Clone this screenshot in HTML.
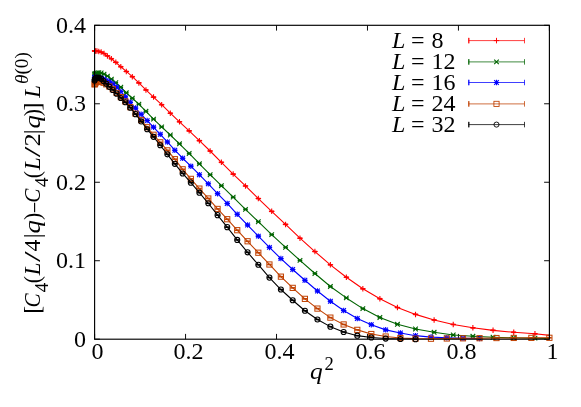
<!DOCTYPE html>
<html><head><meta charset="utf-8"><title>plot</title>
<style>html,body{margin:0;padding:0;background:#fff}body{width:581px;height:407px;overflow:hidden;font-family:"Liberation Serif",serif}</style>
</head><body>
<svg width="581" height="407" viewBox="0 0 581 407" style="display:block;will-change:transform">
<rect width="581" height="407" fill="#fff"/>
<defs><clipPath id="c"><rect x="94.6" y="25.3" width="454.79999999999995" height="313.9"/></clipPath></defs>
<path d="M94.60 339.2V333.9M94.60 25.3V30.6M185.56 339.2V333.9M185.56 25.3V30.6M276.52 339.2V333.9M276.52 25.3V30.6M367.48 339.2V333.9M367.48 25.3V30.6M458.44 339.2V333.9M458.44 25.3V30.6M549.40 339.2V333.9M549.40 25.3V30.6M94.6 339.20H99.89999999999999M549.4 339.20H544.1M94.6 260.73H99.89999999999999M549.4 260.73H544.1M94.6 182.25H99.89999999999999M549.4 182.25H544.1M94.6 103.78H99.89999999999999M549.4 103.78H544.1M94.6 25.30H99.89999999999999M549.4 25.30H544.1" stroke="#000" stroke-width="0.95" fill="none"/>
<g><path d="M94.60 50.88L94.86 50.89L95.65 50.93L96.96 51.05L98.79 51.42L101.15 52.12L104.03 53.54L107.44 55.90L111.37 58.73L115.82 62.34L120.80 66.73L126.30 71.44L132.32 76.70L138.87 82.90L145.95 89.96L153.54 97.10L161.66 104.72L170.31 113.19L179.48 121.82L189.17 130.85L199.39 140.66L210.13 151.02L221.39 162.32L233.18 174.09L245.49 185.94L258.33 198.57L271.69 211.36L285.57 224.39L299.98 238.20L314.91 251.54L330.37 264.81L346.35 277.20L362.85 288.82L379.88 298.71L397.43 307.57L415.51 314.40L434.11 319.97L453.23 324.45L472.88 327.82L493.05 330.33L513.74 332.29L534.96 333.79L556.71 336.06" stroke="#ff0000" stroke-width="1.1" fill="none" clip-path="url(#c)" stroke-linejoin="round"/>
<path d="M92.30 50.88H96.90" stroke="#ff0000" stroke-width="1.65" fill="none"/><path d="M94.60 48.13V53.63M91.85 50.88H97.35" stroke="#ff0000" stroke-width="1.1" fill="none"/>
<path d="M92.56 50.89H97.16" stroke="#ff0000" stroke-width="1.65" fill="none"/><path d="M94.86 48.14V53.64M92.11 50.89H97.61" stroke="#ff0000" stroke-width="1.1" fill="none"/>
<path d="M93.35 50.93H97.95" stroke="#ff0000" stroke-width="1.65" fill="none"/><path d="M95.65 48.18V53.68M92.90 50.93H98.40" stroke="#ff0000" stroke-width="1.1" fill="none"/>
<path d="M94.66 51.05H99.26" stroke="#ff0000" stroke-width="1.65" fill="none"/><path d="M96.96 48.30V53.80M94.21 51.05H99.71" stroke="#ff0000" stroke-width="1.1" fill="none"/>
<path d="M96.49 51.42H101.09" stroke="#ff0000" stroke-width="1.65" fill="none"/><path d="M98.79 48.67V54.17M96.04 51.42H101.54" stroke="#ff0000" stroke-width="1.1" fill="none"/>
<path d="M98.85 52.12H103.45" stroke="#ff0000" stroke-width="1.65" fill="none"/><path d="M101.15 49.37V54.87M98.40 52.12H103.90" stroke="#ff0000" stroke-width="1.1" fill="none"/>
<path d="M101.73 53.54H106.33" stroke="#ff0000" stroke-width="1.65" fill="none"/><path d="M104.03 50.79V56.29M101.28 53.54H106.78" stroke="#ff0000" stroke-width="1.1" fill="none"/>
<path d="M105.14 55.90H109.74" stroke="#ff0000" stroke-width="1.65" fill="none"/><path d="M107.44 53.15V58.65M104.69 55.90H110.19" stroke="#ff0000" stroke-width="1.1" fill="none"/>
<path d="M109.07 58.73H113.67" stroke="#ff0000" stroke-width="1.65" fill="none"/><path d="M111.37 55.98V61.48M108.62 58.73H114.12" stroke="#ff0000" stroke-width="1.1" fill="none"/>
<path d="M113.52 62.34H118.12" stroke="#ff0000" stroke-width="1.65" fill="none"/><path d="M115.82 59.59V65.09M113.07 62.34H118.57" stroke="#ff0000" stroke-width="1.1" fill="none"/>
<path d="M118.50 66.73H123.10" stroke="#ff0000" stroke-width="1.65" fill="none"/><path d="M120.80 63.98V69.48M118.05 66.73H123.55" stroke="#ff0000" stroke-width="1.1" fill="none"/>
<path d="M124.00 71.44H128.60" stroke="#ff0000" stroke-width="1.65" fill="none"/><path d="M126.30 68.69V74.19M123.55 71.44H129.05" stroke="#ff0000" stroke-width="1.1" fill="none"/>
<path d="M130.02 76.70H134.62" stroke="#ff0000" stroke-width="1.65" fill="none"/><path d="M132.32 73.95V79.45M129.57 76.70H135.07" stroke="#ff0000" stroke-width="1.1" fill="none"/>
<path d="M136.57 82.90H141.17" stroke="#ff0000" stroke-width="1.65" fill="none"/><path d="M138.87 80.15V85.65M136.12 82.90H141.62" stroke="#ff0000" stroke-width="1.1" fill="none"/>
<path d="M143.65 89.96H148.25" stroke="#ff0000" stroke-width="1.65" fill="none"/><path d="M145.95 87.21V92.71M143.20 89.96H148.70" stroke="#ff0000" stroke-width="1.1" fill="none"/>
<path d="M151.24 97.10H155.84" stroke="#ff0000" stroke-width="1.65" fill="none"/><path d="M153.54 94.35V99.85M150.79 97.10H156.29" stroke="#ff0000" stroke-width="1.1" fill="none"/>
<path d="M159.36 104.72H163.96" stroke="#ff0000" stroke-width="1.65" fill="none"/><path d="M161.66 101.97V107.47M158.91 104.72H164.41" stroke="#ff0000" stroke-width="1.1" fill="none"/>
<path d="M168.01 113.19H172.61" stroke="#ff0000" stroke-width="1.65" fill="none"/><path d="M170.31 110.44V115.94M167.56 113.19H173.06" stroke="#ff0000" stroke-width="1.1" fill="none"/>
<path d="M177.18 121.82H181.78" stroke="#ff0000" stroke-width="1.65" fill="none"/><path d="M179.48 119.07V124.57M176.73 121.82H182.23" stroke="#ff0000" stroke-width="1.1" fill="none"/>
<path d="M186.87 130.85H191.47" stroke="#ff0000" stroke-width="1.65" fill="none"/><path d="M189.17 128.10V133.60M186.42 130.85H191.92" stroke="#ff0000" stroke-width="1.1" fill="none"/>
<path d="M197.09 140.66H201.69" stroke="#ff0000" stroke-width="1.65" fill="none"/><path d="M199.39 137.91V143.41M196.64 140.66H202.14" stroke="#ff0000" stroke-width="1.1" fill="none"/>
<path d="M207.83 151.02H212.43" stroke="#ff0000" stroke-width="1.65" fill="none"/><path d="M210.13 148.27V153.77M207.38 151.02H212.88" stroke="#ff0000" stroke-width="1.1" fill="none"/>
<path d="M219.09 162.32H223.69" stroke="#ff0000" stroke-width="1.65" fill="none"/><path d="M221.39 159.57V165.07M218.64 162.32H224.14" stroke="#ff0000" stroke-width="1.1" fill="none"/>
<path d="M230.88 174.09H235.48" stroke="#ff0000" stroke-width="1.65" fill="none"/><path d="M233.18 171.34V176.84M230.43 174.09H235.93" stroke="#ff0000" stroke-width="1.1" fill="none"/>
<path d="M243.19 185.94H247.79" stroke="#ff0000" stroke-width="1.65" fill="none"/><path d="M245.49 183.19V188.69M242.74 185.94H248.24" stroke="#ff0000" stroke-width="1.1" fill="none"/>
<path d="M256.03 198.57H260.63" stroke="#ff0000" stroke-width="1.65" fill="none"/><path d="M258.33 195.82V201.32M255.58 198.57H261.08" stroke="#ff0000" stroke-width="1.1" fill="none"/>
<path d="M269.39 211.36H273.99" stroke="#ff0000" stroke-width="1.65" fill="none"/><path d="M271.69 208.61V214.11M268.94 211.36H274.44" stroke="#ff0000" stroke-width="1.1" fill="none"/>
<path d="M283.27 224.39H287.87" stroke="#ff0000" stroke-width="1.65" fill="none"/><path d="M285.57 221.64V227.14M282.82 224.39H288.32" stroke="#ff0000" stroke-width="1.1" fill="none"/>
<path d="M297.68 238.20H302.28" stroke="#ff0000" stroke-width="1.65" fill="none"/><path d="M299.98 235.45V240.95M297.23 238.20H302.73" stroke="#ff0000" stroke-width="1.1" fill="none"/>
<path d="M312.61 251.54H317.21" stroke="#ff0000" stroke-width="1.65" fill="none"/><path d="M314.91 248.79V254.29M312.16 251.54H317.66" stroke="#ff0000" stroke-width="1.1" fill="none"/>
<path d="M328.07 264.81H332.67" stroke="#ff0000" stroke-width="1.65" fill="none"/><path d="M330.37 262.06V267.56M327.62 264.81H333.12" stroke="#ff0000" stroke-width="1.1" fill="none"/>
<path d="M344.05 277.20H348.65" stroke="#ff0000" stroke-width="1.65" fill="none"/><path d="M346.35 274.45V279.95M343.60 277.20H349.10" stroke="#ff0000" stroke-width="1.1" fill="none"/>
<path d="M360.55 288.82H365.15" stroke="#ff0000" stroke-width="1.65" fill="none"/><path d="M362.85 286.07V291.57M360.10 288.82H365.60" stroke="#ff0000" stroke-width="1.1" fill="none"/>
<path d="M377.58 298.71H382.18" stroke="#ff0000" stroke-width="1.65" fill="none"/><path d="M379.88 295.96V301.46M377.13 298.71H382.63" stroke="#ff0000" stroke-width="1.1" fill="none"/>
<path d="M395.13 307.57H399.73" stroke="#ff0000" stroke-width="1.65" fill="none"/><path d="M397.43 304.82V310.32M394.68 307.57H400.18" stroke="#ff0000" stroke-width="1.1" fill="none"/>
<path d="M413.21 314.40H417.81" stroke="#ff0000" stroke-width="1.65" fill="none"/><path d="M415.51 311.65V317.15M412.76 314.40H418.26" stroke="#ff0000" stroke-width="1.1" fill="none"/>
<path d="M431.81 319.97H436.41" stroke="#ff0000" stroke-width="1.65" fill="none"/><path d="M434.11 317.22V322.72M431.36 319.97H436.86" stroke="#ff0000" stroke-width="1.1" fill="none"/>
<path d="M450.93 324.45H455.53" stroke="#ff0000" stroke-width="1.65" fill="none"/><path d="M453.23 321.70V327.20M450.48 324.45H455.98" stroke="#ff0000" stroke-width="1.1" fill="none"/>
<path d="M470.58 327.82H475.18" stroke="#ff0000" stroke-width="1.65" fill="none"/><path d="M472.88 325.07V330.57M470.13 327.82H475.63" stroke="#ff0000" stroke-width="1.1" fill="none"/>
<path d="M490.75 330.33H495.35" stroke="#ff0000" stroke-width="1.65" fill="none"/><path d="M493.05 327.58V333.08M490.30 330.33H495.80" stroke="#ff0000" stroke-width="1.1" fill="none"/>
<path d="M511.44 332.29H516.04" stroke="#ff0000" stroke-width="1.65" fill="none"/><path d="M513.74 329.54V335.04M510.99 332.29H516.49" stroke="#ff0000" stroke-width="1.1" fill="none"/>
<path d="M532.66 333.79H537.26" stroke="#ff0000" stroke-width="1.65" fill="none"/><path d="M534.96 331.04V336.54M532.21 333.79H537.71" stroke="#ff0000" stroke-width="1.1" fill="none"/>
</g>
<g><path d="M94.60 74.11L94.86 73.93L95.65 73.43L96.96 72.92L98.79 72.65L101.15 72.92L104.03 74.18L107.44 76.16L111.37 79.13L115.82 82.78L120.80 87.26L126.30 92.79L132.32 98.28L138.87 104.17L145.95 111.31L153.54 119.08L161.66 126.93L170.31 135.01L179.48 143.80L189.17 153.45L199.39 163.81L210.13 174.72L221.39 185.70L233.18 197.16L245.49 209.32L258.33 221.72L271.69 234.67L285.57 247.38L299.98 260.41L314.91 273.52L330.37 286.46L346.35 297.92L362.85 308.59L379.88 317.46L397.43 324.29L415.51 329.00L434.11 332.29L453.23 334.96L472.88 336.30L493.05 337.24L513.74 337.79L534.96 338.18L556.71 338.42" stroke="#006400" stroke-width="1.1" fill="none" clip-path="url(#c)" stroke-linejoin="round"/>
<path d="M92.30 74.11H96.90" stroke="#006400" stroke-width="1.65" fill="none"/><path d="M92.30 71.81L96.90 76.41M92.30 76.41L96.90 71.81" stroke="#006400" stroke-width="1.1" fill="none"/>
<path d="M92.56 73.93H97.16" stroke="#006400" stroke-width="1.65" fill="none"/><path d="M92.56 71.63L97.16 76.23M92.56 76.23L97.16 71.63" stroke="#006400" stroke-width="1.1" fill="none"/>
<path d="M93.35 73.43H97.95" stroke="#006400" stroke-width="1.65" fill="none"/><path d="M93.35 71.13L97.95 75.73M93.35 75.73L97.95 71.13" stroke="#006400" stroke-width="1.1" fill="none"/>
<path d="M94.66 72.92H99.26" stroke="#006400" stroke-width="1.65" fill="none"/><path d="M94.66 70.62L99.26 75.22M94.66 75.22L99.26 70.62" stroke="#006400" stroke-width="1.1" fill="none"/>
<path d="M96.49 72.65H101.09" stroke="#006400" stroke-width="1.65" fill="none"/><path d="M96.49 70.35L101.09 74.95M96.49 74.95L101.09 70.35" stroke="#006400" stroke-width="1.1" fill="none"/>
<path d="M98.85 72.92H103.45" stroke="#006400" stroke-width="1.65" fill="none"/><path d="M98.85 70.62L103.45 75.22M98.85 75.22L103.45 70.62" stroke="#006400" stroke-width="1.1" fill="none"/>
<path d="M101.73 74.18H106.33" stroke="#006400" stroke-width="1.65" fill="none"/><path d="M101.73 71.88L106.33 76.48M101.73 76.48L106.33 71.88" stroke="#006400" stroke-width="1.1" fill="none"/>
<path d="M105.14 76.16H109.74" stroke="#006400" stroke-width="1.65" fill="none"/><path d="M105.14 73.86L109.74 78.46M105.14 78.46L109.74 73.86" stroke="#006400" stroke-width="1.1" fill="none"/>
<path d="M109.07 79.13H113.67" stroke="#006400" stroke-width="1.65" fill="none"/><path d="M109.07 76.83L113.67 81.43M109.07 81.43L113.67 76.83" stroke="#006400" stroke-width="1.1" fill="none"/>
<path d="M113.52 82.78H118.12" stroke="#006400" stroke-width="1.65" fill="none"/><path d="M113.52 80.48L118.12 85.08M113.52 85.08L118.12 80.48" stroke="#006400" stroke-width="1.1" fill="none"/>
<path d="M118.50 87.26H123.10" stroke="#006400" stroke-width="1.65" fill="none"/><path d="M118.50 84.96L123.10 89.56M118.50 89.56L123.10 84.96" stroke="#006400" stroke-width="1.1" fill="none"/>
<path d="M124.00 92.79H128.60" stroke="#006400" stroke-width="1.65" fill="none"/><path d="M124.00 90.49L128.60 95.09M124.00 95.09L128.60 90.49" stroke="#006400" stroke-width="1.1" fill="none"/>
<path d="M130.02 98.28H134.62" stroke="#006400" stroke-width="1.65" fill="none"/><path d="M130.02 95.98L134.62 100.58M130.02 100.58L134.62 95.98" stroke="#006400" stroke-width="1.1" fill="none"/>
<path d="M136.57 104.17H141.17" stroke="#006400" stroke-width="1.65" fill="none"/><path d="M136.57 101.87L141.17 106.47M136.57 106.47L141.17 101.87" stroke="#006400" stroke-width="1.1" fill="none"/>
<path d="M143.65 111.31H148.25" stroke="#006400" stroke-width="1.65" fill="none"/><path d="M143.65 109.01L148.25 113.61M143.65 113.61L148.25 109.01" stroke="#006400" stroke-width="1.1" fill="none"/>
<path d="M151.24 119.08H155.84" stroke="#006400" stroke-width="1.65" fill="none"/><path d="M151.24 116.78L155.84 121.38M151.24 121.38L155.84 116.78" stroke="#006400" stroke-width="1.1" fill="none"/>
<path d="M159.36 126.93H163.96" stroke="#006400" stroke-width="1.65" fill="none"/><path d="M159.36 124.63L163.96 129.23M159.36 129.23L163.96 124.63" stroke="#006400" stroke-width="1.1" fill="none"/>
<path d="M168.01 135.01H172.61" stroke="#006400" stroke-width="1.65" fill="none"/><path d="M168.01 132.71L172.61 137.31M168.01 137.31L172.61 132.71" stroke="#006400" stroke-width="1.1" fill="none"/>
<path d="M177.18 143.80H181.78" stroke="#006400" stroke-width="1.65" fill="none"/><path d="M177.18 141.50L181.78 146.10M177.18 146.10L181.78 141.50" stroke="#006400" stroke-width="1.1" fill="none"/>
<path d="M186.87 153.45H191.47" stroke="#006400" stroke-width="1.65" fill="none"/><path d="M186.87 151.15L191.47 155.75M186.87 155.75L191.47 151.15" stroke="#006400" stroke-width="1.1" fill="none"/>
<path d="M197.09 163.81H201.69" stroke="#006400" stroke-width="1.65" fill="none"/><path d="M197.09 161.51L201.69 166.11M197.09 166.11L201.69 161.51" stroke="#006400" stroke-width="1.1" fill="none"/>
<path d="M207.83 174.72H212.43" stroke="#006400" stroke-width="1.65" fill="none"/><path d="M207.83 172.42L212.43 177.02M207.83 177.02L212.43 172.42" stroke="#006400" stroke-width="1.1" fill="none"/>
<path d="M219.09 185.70H223.69" stroke="#006400" stroke-width="1.65" fill="none"/><path d="M219.09 183.40L223.69 188.00M219.09 188.00L223.69 183.40" stroke="#006400" stroke-width="1.1" fill="none"/>
<path d="M230.88 197.16H235.48" stroke="#006400" stroke-width="1.65" fill="none"/><path d="M230.88 194.86L235.48 199.46M230.88 199.46L235.48 194.86" stroke="#006400" stroke-width="1.1" fill="none"/>
<path d="M243.19 209.32H247.79" stroke="#006400" stroke-width="1.65" fill="none"/><path d="M243.19 207.02L247.79 211.62M243.19 211.62L247.79 207.02" stroke="#006400" stroke-width="1.1" fill="none"/>
<path d="M256.03 221.72H260.63" stroke="#006400" stroke-width="1.65" fill="none"/><path d="M256.03 219.42L260.63 224.02M256.03 224.02L260.63 219.42" stroke="#006400" stroke-width="1.1" fill="none"/>
<path d="M269.39 234.67H273.99" stroke="#006400" stroke-width="1.65" fill="none"/><path d="M269.39 232.37L273.99 236.97M269.39 236.97L273.99 232.37" stroke="#006400" stroke-width="1.1" fill="none"/>
<path d="M283.27 247.38H287.87" stroke="#006400" stroke-width="1.65" fill="none"/><path d="M283.27 245.08L287.87 249.68M283.27 249.68L287.87 245.08" stroke="#006400" stroke-width="1.1" fill="none"/>
<path d="M297.68 260.41H302.28" stroke="#006400" stroke-width="1.65" fill="none"/><path d="M297.68 258.11L302.28 262.71M297.68 262.71L302.28 258.11" stroke="#006400" stroke-width="1.1" fill="none"/>
<path d="M312.61 273.52H317.21" stroke="#006400" stroke-width="1.65" fill="none"/><path d="M312.61 271.22L317.21 275.82M312.61 275.82L317.21 271.22" stroke="#006400" stroke-width="1.1" fill="none"/>
<path d="M328.07 286.46H332.67" stroke="#006400" stroke-width="1.65" fill="none"/><path d="M328.07 284.16L332.67 288.76M328.07 288.76L332.67 284.16" stroke="#006400" stroke-width="1.1" fill="none"/>
<path d="M344.05 297.92H348.65" stroke="#006400" stroke-width="1.65" fill="none"/><path d="M344.05 295.62L348.65 300.22M344.05 300.22L348.65 295.62" stroke="#006400" stroke-width="1.1" fill="none"/>
<path d="M360.55 308.59H365.15" stroke="#006400" stroke-width="1.65" fill="none"/><path d="M360.55 306.29L365.15 310.89M360.55 310.89L365.15 306.29" stroke="#006400" stroke-width="1.1" fill="none"/>
<path d="M377.58 317.46H382.18" stroke="#006400" stroke-width="1.65" fill="none"/><path d="M377.58 315.16L382.18 319.76M377.58 319.76L382.18 315.16" stroke="#006400" stroke-width="1.1" fill="none"/>
<path d="M395.13 324.29H399.73" stroke="#006400" stroke-width="1.65" fill="none"/><path d="M395.13 321.99L399.73 326.59M395.13 326.59L399.73 321.99" stroke="#006400" stroke-width="1.1" fill="none"/>
<path d="M413.21 329.00H417.81" stroke="#006400" stroke-width="1.65" fill="none"/><path d="M413.21 326.70L417.81 331.30M413.21 331.30L417.81 326.70" stroke="#006400" stroke-width="1.1" fill="none"/>
<path d="M431.81 332.29H436.41" stroke="#006400" stroke-width="1.65" fill="none"/><path d="M431.81 329.99L436.41 334.59M431.81 334.59L436.41 329.99" stroke="#006400" stroke-width="1.1" fill="none"/>
<path d="M450.93 334.96H455.53" stroke="#006400" stroke-width="1.65" fill="none"/><path d="M450.93 332.66L455.53 337.26M450.93 337.26L455.53 332.66" stroke="#006400" stroke-width="1.1" fill="none"/>
<path d="M470.58 336.30H475.18" stroke="#006400" stroke-width="1.65" fill="none"/><path d="M470.58 334.00L475.18 338.60M470.58 338.60L475.18 334.00" stroke="#006400" stroke-width="1.1" fill="none"/>
<path d="M490.75 337.24H495.35" stroke="#006400" stroke-width="1.65" fill="none"/><path d="M490.75 334.94L495.35 339.54M490.75 339.54L495.35 334.94" stroke="#006400" stroke-width="1.1" fill="none"/>
<path d="M511.44 337.79H516.04" stroke="#006400" stroke-width="1.65" fill="none"/><path d="M511.44 335.49L516.04 340.09M511.44 340.09L516.04 335.49" stroke="#006400" stroke-width="1.1" fill="none"/>
<path d="M532.66 338.18H537.26" stroke="#006400" stroke-width="1.65" fill="none"/><path d="M532.66 335.88L537.26 340.48M532.66 340.48L537.26 335.88" stroke="#006400" stroke-width="1.1" fill="none"/>
</g>
<g><path d="M94.60 77.49L94.78 77.49L95.33 77.51L96.24 77.56L97.51 77.66L99.15 77.87L101.15 78.27L103.51 79.06L106.24 80.39L109.34 81.83L112.79 83.84L116.61 87.00L120.80 91.49L125.34 96.87L130.26 102.36L135.53 108.09L141.17 114.29L147.17 120.57L153.54 127.16L160.27 134.30L167.37 141.99L174.83 150.23L182.65 158.24L190.84 166.16L199.39 174.72L208.30 183.82L217.58 193.63L227.22 203.44L237.23 214.27L247.59 225.02L258.33 236.16L269.43 247.38L280.89 258.61L292.71 269.51L304.90 280.27L317.45 291.02L330.37 301.30L343.65 310.48L357.29 318.48L371.30 324.68L385.67 329.86L400.41 333.00L415.51 335.67L430.97 337.08L446.80 337.71L462.99 338.26L479.54 338.57" stroke="#0000ff" stroke-width="1.1" fill="none" clip-path="url(#c)" stroke-linejoin="round"/>
<path d="M92.30 77.49H96.90" stroke="#0000ff" stroke-width="1.65" fill="none"/><path d="M94.60 74.74V80.24M91.85 77.49H97.35" stroke="#0000ff" stroke-width="1.1" fill="none"/><path d="M92.30 75.19L96.90 79.79M92.30 79.79L96.90 75.19" stroke="#0000ff" stroke-width="1.1" fill="none"/>
<path d="M92.48 77.49H97.08" stroke="#0000ff" stroke-width="1.65" fill="none"/><path d="M94.78 74.74V80.24M92.03 77.49H97.53" stroke="#0000ff" stroke-width="1.1" fill="none"/><path d="M92.48 75.19L97.08 79.79M92.48 79.79L97.08 75.19" stroke="#0000ff" stroke-width="1.1" fill="none"/>
<path d="M93.03 77.51H97.63" stroke="#0000ff" stroke-width="1.65" fill="none"/><path d="M95.33 74.76V80.26M92.58 77.51H98.08" stroke="#0000ff" stroke-width="1.1" fill="none"/><path d="M93.03 75.21L97.63 79.81M93.03 79.81L97.63 75.21" stroke="#0000ff" stroke-width="1.1" fill="none"/>
<path d="M93.94 77.56H98.54" stroke="#0000ff" stroke-width="1.65" fill="none"/><path d="M96.24 74.81V80.31M93.49 77.56H98.99" stroke="#0000ff" stroke-width="1.1" fill="none"/><path d="M93.94 75.26L98.54 79.86M93.94 79.86L98.54 75.26" stroke="#0000ff" stroke-width="1.1" fill="none"/>
<path d="M95.21 77.66H99.81" stroke="#0000ff" stroke-width="1.65" fill="none"/><path d="M97.51 74.91V80.41M94.76 77.66H100.26" stroke="#0000ff" stroke-width="1.1" fill="none"/><path d="M95.21 75.36L99.81 79.96M95.21 79.96L99.81 75.36" stroke="#0000ff" stroke-width="1.1" fill="none"/>
<path d="M96.85 77.87H101.45" stroke="#0000ff" stroke-width="1.65" fill="none"/><path d="M99.15 75.12V80.62M96.40 77.87H101.90" stroke="#0000ff" stroke-width="1.1" fill="none"/><path d="M96.85 75.57L101.45 80.17M96.85 80.17L101.45 75.57" stroke="#0000ff" stroke-width="1.1" fill="none"/>
<path d="M98.85 78.27H103.45" stroke="#0000ff" stroke-width="1.65" fill="none"/><path d="M101.15 75.52V81.02M98.40 78.27H103.90" stroke="#0000ff" stroke-width="1.1" fill="none"/><path d="M98.85 75.97L103.45 80.57M98.85 80.57L103.45 75.97" stroke="#0000ff" stroke-width="1.1" fill="none"/>
<path d="M101.21 79.06H105.81" stroke="#0000ff" stroke-width="1.65" fill="none"/><path d="M103.51 76.31V81.81M100.76 79.06H106.26" stroke="#0000ff" stroke-width="1.1" fill="none"/><path d="M101.21 76.76L105.81 81.36M101.21 81.36L105.81 76.76" stroke="#0000ff" stroke-width="1.1" fill="none"/>
<path d="M103.94 80.39H108.54" stroke="#0000ff" stroke-width="1.65" fill="none"/><path d="M106.24 77.64V83.14M103.49 80.39H108.99" stroke="#0000ff" stroke-width="1.1" fill="none"/><path d="M103.94 78.09L108.54 82.69M103.94 82.69L108.54 78.09" stroke="#0000ff" stroke-width="1.1" fill="none"/>
<path d="M107.04 81.83H111.64" stroke="#0000ff" stroke-width="1.65" fill="none"/><path d="M109.34 79.08V84.58M106.59 81.83H112.09" stroke="#0000ff" stroke-width="1.1" fill="none"/><path d="M107.04 79.53L111.64 84.13M107.04 84.13L111.64 79.53" stroke="#0000ff" stroke-width="1.1" fill="none"/>
<path d="M110.49 83.84H115.09" stroke="#0000ff" stroke-width="1.65" fill="none"/><path d="M112.79 81.09V86.59M110.04 83.84H115.54" stroke="#0000ff" stroke-width="1.1" fill="none"/><path d="M110.49 81.54L115.09 86.14M110.49 86.14L115.09 81.54" stroke="#0000ff" stroke-width="1.1" fill="none"/>
<path d="M114.31 87.00H118.91" stroke="#0000ff" stroke-width="1.65" fill="none"/><path d="M116.61 84.25V89.75M113.86 87.00H119.36" stroke="#0000ff" stroke-width="1.1" fill="none"/><path d="M114.31 84.70L118.91 89.30M114.31 89.30L118.91 84.70" stroke="#0000ff" stroke-width="1.1" fill="none"/>
<path d="M118.50 91.49H123.10" stroke="#0000ff" stroke-width="1.65" fill="none"/><path d="M120.80 88.74V94.24M118.05 91.49H123.55" stroke="#0000ff" stroke-width="1.1" fill="none"/><path d="M118.50 89.19L123.10 93.79M118.50 93.79L123.10 89.19" stroke="#0000ff" stroke-width="1.1" fill="none"/>
<path d="M123.04 96.87H127.64" stroke="#0000ff" stroke-width="1.65" fill="none"/><path d="M125.34 94.12V99.62M122.59 96.87H128.09" stroke="#0000ff" stroke-width="1.1" fill="none"/><path d="M123.04 94.57L127.64 99.17M123.04 99.17L127.64 94.57" stroke="#0000ff" stroke-width="1.1" fill="none"/>
<path d="M127.96 102.36H132.56" stroke="#0000ff" stroke-width="1.65" fill="none"/><path d="M130.26 99.61V105.11M127.51 102.36H133.01" stroke="#0000ff" stroke-width="1.1" fill="none"/><path d="M127.96 100.06L132.56 104.66M127.96 104.66L132.56 100.06" stroke="#0000ff" stroke-width="1.1" fill="none"/>
<path d="M133.23 108.09H137.83" stroke="#0000ff" stroke-width="1.65" fill="none"/><path d="M135.53 105.34V110.84M132.78 108.09H138.28" stroke="#0000ff" stroke-width="1.1" fill="none"/><path d="M133.23 105.79L137.83 110.39M133.23 110.39L137.83 105.79" stroke="#0000ff" stroke-width="1.1" fill="none"/>
<path d="M138.87 114.29H143.47" stroke="#0000ff" stroke-width="1.65" fill="none"/><path d="M141.17 111.54V117.04M138.42 114.29H143.92" stroke="#0000ff" stroke-width="1.1" fill="none"/><path d="M138.87 111.99L143.47 116.59M138.87 116.59L143.47 111.99" stroke="#0000ff" stroke-width="1.1" fill="none"/>
<path d="M144.87 120.57H149.47" stroke="#0000ff" stroke-width="1.65" fill="none"/><path d="M147.17 117.82V123.32M144.42 120.57H149.92" stroke="#0000ff" stroke-width="1.1" fill="none"/><path d="M144.87 118.27L149.47 122.87M144.87 122.87L149.47 118.27" stroke="#0000ff" stroke-width="1.1" fill="none"/>
<path d="M151.24 127.16H155.84" stroke="#0000ff" stroke-width="1.65" fill="none"/><path d="M153.54 124.41V129.91M150.79 127.16H156.29" stroke="#0000ff" stroke-width="1.1" fill="none"/><path d="M151.24 124.86L155.84 129.46M151.24 129.46L155.84 124.86" stroke="#0000ff" stroke-width="1.1" fill="none"/>
<path d="M157.97 134.30H162.57" stroke="#0000ff" stroke-width="1.65" fill="none"/><path d="M160.27 131.55V137.05M157.52 134.30H163.02" stroke="#0000ff" stroke-width="1.1" fill="none"/><path d="M157.97 132.00L162.57 136.60M157.97 136.60L162.57 132.00" stroke="#0000ff" stroke-width="1.1" fill="none"/>
<path d="M165.07 141.99H169.67" stroke="#0000ff" stroke-width="1.65" fill="none"/><path d="M167.37 139.24V144.74M164.62 141.99H170.12" stroke="#0000ff" stroke-width="1.1" fill="none"/><path d="M165.07 139.69L169.67 144.29M165.07 144.29L169.67 139.69" stroke="#0000ff" stroke-width="1.1" fill="none"/>
<path d="M172.53 150.23H177.13" stroke="#0000ff" stroke-width="1.65" fill="none"/><path d="M174.83 147.48V152.98M172.08 150.23H177.58" stroke="#0000ff" stroke-width="1.1" fill="none"/><path d="M172.53 147.93L177.13 152.53M172.53 152.53L177.13 147.93" stroke="#0000ff" stroke-width="1.1" fill="none"/>
<path d="M180.35 158.24H184.95" stroke="#0000ff" stroke-width="1.65" fill="none"/><path d="M182.65 155.49V160.99M179.90 158.24H185.40" stroke="#0000ff" stroke-width="1.1" fill="none"/><path d="M180.35 155.94L184.95 160.54M180.35 160.54L184.95 155.94" stroke="#0000ff" stroke-width="1.1" fill="none"/>
<path d="M188.54 166.16H193.14" stroke="#0000ff" stroke-width="1.65" fill="none"/><path d="M190.84 163.41V168.91M188.09 166.16H193.59" stroke="#0000ff" stroke-width="1.1" fill="none"/><path d="M188.54 163.86L193.14 168.46M188.54 168.46L193.14 163.86" stroke="#0000ff" stroke-width="1.1" fill="none"/>
<path d="M197.09 174.72H201.69" stroke="#0000ff" stroke-width="1.65" fill="none"/><path d="M199.39 171.97V177.47M196.64 174.72H202.14" stroke="#0000ff" stroke-width="1.1" fill="none"/><path d="M197.09 172.42L201.69 177.02M197.09 177.02L201.69 172.42" stroke="#0000ff" stroke-width="1.1" fill="none"/>
<path d="M206.00 183.82H210.60" stroke="#0000ff" stroke-width="1.65" fill="none"/><path d="M208.30 181.07V186.57M205.55 183.82H211.05" stroke="#0000ff" stroke-width="1.1" fill="none"/><path d="M206.00 181.52L210.60 186.12M206.00 186.12L210.60 181.52" stroke="#0000ff" stroke-width="1.1" fill="none"/>
<path d="M215.28 193.63H219.88" stroke="#0000ff" stroke-width="1.65" fill="none"/><path d="M217.58 190.88V196.38M214.83 193.63H220.33" stroke="#0000ff" stroke-width="1.1" fill="none"/><path d="M215.28 191.33L219.88 195.93M215.28 195.93L219.88 191.33" stroke="#0000ff" stroke-width="1.1" fill="none"/>
<path d="M224.92 203.44H229.52" stroke="#0000ff" stroke-width="1.65" fill="none"/><path d="M227.22 200.69V206.19M224.47 203.44H229.97" stroke="#0000ff" stroke-width="1.1" fill="none"/><path d="M224.92 201.14L229.52 205.74M224.92 205.74L229.52 201.14" stroke="#0000ff" stroke-width="1.1" fill="none"/>
<path d="M234.93 214.27H239.53" stroke="#0000ff" stroke-width="1.65" fill="none"/><path d="M237.23 211.52V217.02M234.48 214.27H239.98" stroke="#0000ff" stroke-width="1.1" fill="none"/><path d="M234.93 211.97L239.53 216.57M234.93 216.57L239.53 211.97" stroke="#0000ff" stroke-width="1.1" fill="none"/>
<path d="M245.29 225.02H249.89" stroke="#0000ff" stroke-width="1.65" fill="none"/><path d="M247.59 222.27V227.77M244.84 225.02H250.34" stroke="#0000ff" stroke-width="1.1" fill="none"/><path d="M245.29 222.72L249.89 227.32M245.29 227.32L249.89 222.72" stroke="#0000ff" stroke-width="1.1" fill="none"/>
<path d="M256.03 236.16H260.63" stroke="#0000ff" stroke-width="1.65" fill="none"/><path d="M258.33 233.41V238.91M255.58 236.16H261.08" stroke="#0000ff" stroke-width="1.1" fill="none"/><path d="M256.03 233.86L260.63 238.46M256.03 238.46L260.63 233.86" stroke="#0000ff" stroke-width="1.1" fill="none"/>
<path d="M267.13 247.38H271.73" stroke="#0000ff" stroke-width="1.65" fill="none"/><path d="M269.43 244.63V250.13M266.68 247.38H272.18" stroke="#0000ff" stroke-width="1.1" fill="none"/><path d="M267.13 245.08L271.73 249.68M267.13 249.68L271.73 245.08" stroke="#0000ff" stroke-width="1.1" fill="none"/>
<path d="M278.59 258.61H283.19" stroke="#0000ff" stroke-width="1.65" fill="none"/><path d="M280.89 255.86V261.36M278.14 258.61H283.64" stroke="#0000ff" stroke-width="1.1" fill="none"/><path d="M278.59 256.31L283.19 260.91M278.59 260.91L283.19 256.31" stroke="#0000ff" stroke-width="1.1" fill="none"/>
<path d="M290.41 269.51H295.01" stroke="#0000ff" stroke-width="1.65" fill="none"/><path d="M292.71 266.76V272.26M289.96 269.51H295.46" stroke="#0000ff" stroke-width="1.1" fill="none"/><path d="M290.41 267.21L295.01 271.81M290.41 271.81L295.01 267.21" stroke="#0000ff" stroke-width="1.1" fill="none"/>
<path d="M302.60 280.27H307.20" stroke="#0000ff" stroke-width="1.65" fill="none"/><path d="M304.90 277.52V283.02M302.15 280.27H307.65" stroke="#0000ff" stroke-width="1.1" fill="none"/><path d="M302.60 277.97L307.20 282.57M302.60 282.57L307.20 277.97" stroke="#0000ff" stroke-width="1.1" fill="none"/>
<path d="M315.15 291.02H319.75" stroke="#0000ff" stroke-width="1.65" fill="none"/><path d="M317.45 288.27V293.77M314.70 291.02H320.20" stroke="#0000ff" stroke-width="1.1" fill="none"/><path d="M315.15 288.72L319.75 293.32M315.15 293.32L319.75 288.72" stroke="#0000ff" stroke-width="1.1" fill="none"/>
<path d="M328.07 301.30H332.67" stroke="#0000ff" stroke-width="1.65" fill="none"/><path d="M330.37 298.55V304.05M327.62 301.30H333.12" stroke="#0000ff" stroke-width="1.1" fill="none"/><path d="M328.07 299.00L332.67 303.60M328.07 303.60L332.67 299.00" stroke="#0000ff" stroke-width="1.1" fill="none"/>
<path d="M341.35 310.48H345.95" stroke="#0000ff" stroke-width="1.65" fill="none"/><path d="M343.65 307.73V313.23M340.90 310.48H346.40" stroke="#0000ff" stroke-width="1.1" fill="none"/><path d="M341.35 308.18L345.95 312.78M341.35 312.78L345.95 308.18" stroke="#0000ff" stroke-width="1.1" fill="none"/>
<path d="M354.99 318.48H359.59" stroke="#0000ff" stroke-width="1.65" fill="none"/><path d="M357.29 315.73V321.23M354.54 318.48H360.04" stroke="#0000ff" stroke-width="1.1" fill="none"/><path d="M354.99 316.18L359.59 320.78M354.99 320.78L359.59 316.18" stroke="#0000ff" stroke-width="1.1" fill="none"/>
<path d="M369.00 324.68H373.60" stroke="#0000ff" stroke-width="1.65" fill="none"/><path d="M371.30 321.93V327.43M368.55 324.68H374.05" stroke="#0000ff" stroke-width="1.1" fill="none"/><path d="M369.00 322.38L373.60 326.98M369.00 326.98L373.60 322.38" stroke="#0000ff" stroke-width="1.1" fill="none"/>
<path d="M383.37 329.86H387.97" stroke="#0000ff" stroke-width="1.65" fill="none"/><path d="M385.67 327.11V332.61M382.92 329.86H388.42" stroke="#0000ff" stroke-width="1.1" fill="none"/><path d="M383.37 327.56L387.97 332.16M383.37 332.16L387.97 327.56" stroke="#0000ff" stroke-width="1.1" fill="none"/>
<path d="M398.11 333.00H402.71" stroke="#0000ff" stroke-width="1.65" fill="none"/><path d="M400.41 330.25V335.75M397.66 333.00H403.16" stroke="#0000ff" stroke-width="1.1" fill="none"/><path d="M398.11 330.70L402.71 335.30M398.11 335.30L402.71 330.70" stroke="#0000ff" stroke-width="1.1" fill="none"/>
<path d="M413.21 335.67H417.81" stroke="#0000ff" stroke-width="1.65" fill="none"/><path d="M415.51 332.92V338.42M412.76 335.67H418.26" stroke="#0000ff" stroke-width="1.1" fill="none"/><path d="M413.21 333.37L417.81 337.97M413.21 337.97L417.81 333.37" stroke="#0000ff" stroke-width="1.1" fill="none"/>
<path d="M428.67 337.08H433.27" stroke="#0000ff" stroke-width="1.65" fill="none"/><path d="M430.97 334.33V339.83M428.22 337.08H433.72" stroke="#0000ff" stroke-width="1.1" fill="none"/><path d="M428.67 334.78L433.27 339.38M428.67 339.38L433.27 334.78" stroke="#0000ff" stroke-width="1.1" fill="none"/>
<path d="M444.50 337.71H449.10" stroke="#0000ff" stroke-width="1.65" fill="none"/><path d="M446.80 334.96V340.46M444.05 337.71H449.55" stroke="#0000ff" stroke-width="1.1" fill="none"/><path d="M444.50 335.41L449.10 340.01M444.50 340.01L449.10 335.41" stroke="#0000ff" stroke-width="1.1" fill="none"/>
<path d="M460.69 338.26H465.29" stroke="#0000ff" stroke-width="1.65" fill="none"/><path d="M462.99 335.51V341.01M460.24 338.26H465.74" stroke="#0000ff" stroke-width="1.1" fill="none"/><path d="M460.69 335.96L465.29 340.56M460.69 340.56L465.29 335.96" stroke="#0000ff" stroke-width="1.1" fill="none"/>
<path d="M477.24 338.57H481.84" stroke="#0000ff" stroke-width="1.65" fill="none"/><path d="M479.54 335.82V341.32M476.79 338.57H482.29" stroke="#0000ff" stroke-width="1.1" fill="none"/><path d="M477.24 336.27L481.84 340.87M477.24 340.87L481.84 336.27" stroke="#0000ff" stroke-width="1.1" fill="none"/>
</g>
<g><path d="M94.60 84.39L94.78 84.06L95.33 83.21L96.24 82.22L97.51 81.57L99.15 81.25L101.15 81.65L103.51 82.74L106.24 84.31L109.34 86.48L112.79 89.26L116.61 92.88L120.80 97.10L125.34 101.42L130.26 107.17L135.53 113.66L141.17 120.02L147.17 127.24L153.54 134.77L160.27 142.31L167.37 150.36L174.83 159.18L182.65 169.30L190.84 178.88L199.39 188.61L208.30 198.49L217.58 208.93L227.22 219.21L237.23 230.20L247.59 241.26L258.33 252.72L269.43 264.49L280.89 276.66L292.71 287.88L304.90 298.86L317.45 308.59L330.37 317.62L343.65 324.45L357.29 329.86L371.30 334.02L385.67 336.53L400.41 338.02L415.51 338.65L430.97 338.73L446.80 338.49L462.99 338.32L479.54 338.18L496.46 338.05L513.74 337.94L531.39 337.86L549.40 337.79" stroke="#c04000" stroke-width="1.1" fill="none" clip-path="url(#c)" stroke-linejoin="round"/>
<path d="M92.30 84.39H96.90" stroke="#c04000" stroke-width="1.65" fill="none"/><rect x="92.00" y="81.79" width="5.2" height="5.2" stroke="#c04000" stroke-width="0.99" fill="none"/>
<path d="M92.48 84.06H97.08" stroke="#c04000" stroke-width="1.65" fill="none"/><rect x="92.18" y="81.46" width="5.2" height="5.2" stroke="#c04000" stroke-width="0.99" fill="none"/>
<path d="M93.03 83.21H97.63" stroke="#c04000" stroke-width="1.65" fill="none"/><rect x="92.73" y="80.61" width="5.2" height="5.2" stroke="#c04000" stroke-width="0.99" fill="none"/>
<path d="M93.94 82.22H98.54" stroke="#c04000" stroke-width="1.65" fill="none"/><rect x="93.64" y="79.62" width="5.2" height="5.2" stroke="#c04000" stroke-width="0.99" fill="none"/>
<path d="M95.21 81.57H99.81" stroke="#c04000" stroke-width="1.65" fill="none"/><rect x="94.91" y="78.97" width="5.2" height="5.2" stroke="#c04000" stroke-width="0.99" fill="none"/>
<path d="M96.85 81.25H101.45" stroke="#c04000" stroke-width="1.65" fill="none"/><rect x="96.55" y="78.65" width="5.2" height="5.2" stroke="#c04000" stroke-width="0.99" fill="none"/>
<path d="M98.85 81.65H103.45" stroke="#c04000" stroke-width="1.65" fill="none"/><rect x="98.55" y="79.05" width="5.2" height="5.2" stroke="#c04000" stroke-width="0.99" fill="none"/>
<path d="M101.21 82.74H105.81" stroke="#c04000" stroke-width="1.65" fill="none"/><rect x="100.91" y="80.14" width="5.2" height="5.2" stroke="#c04000" stroke-width="0.99" fill="none"/>
<path d="M103.94 84.31H108.54" stroke="#c04000" stroke-width="1.65" fill="none"/><rect x="103.64" y="81.71" width="5.2" height="5.2" stroke="#c04000" stroke-width="0.99" fill="none"/>
<path d="M107.04 86.48H111.64" stroke="#c04000" stroke-width="1.65" fill="none"/><rect x="106.74" y="83.88" width="5.2" height="5.2" stroke="#c04000" stroke-width="0.99" fill="none"/>
<path d="M110.49 89.26H115.09" stroke="#c04000" stroke-width="1.65" fill="none"/><rect x="110.19" y="86.66" width="5.2" height="5.2" stroke="#c04000" stroke-width="0.99" fill="none"/>
<path d="M114.31 92.88H118.91" stroke="#c04000" stroke-width="1.65" fill="none"/><rect x="114.01" y="90.28" width="5.2" height="5.2" stroke="#c04000" stroke-width="0.99" fill="none"/>
<path d="M118.50 97.10H123.10" stroke="#c04000" stroke-width="1.65" fill="none"/><rect x="118.20" y="94.50" width="5.2" height="5.2" stroke="#c04000" stroke-width="0.99" fill="none"/>
<path d="M123.04 101.42H127.64" stroke="#c04000" stroke-width="1.65" fill="none"/><rect x="122.74" y="98.82" width="5.2" height="5.2" stroke="#c04000" stroke-width="0.99" fill="none"/>
<path d="M127.96 107.17H132.56" stroke="#c04000" stroke-width="1.65" fill="none"/><rect x="127.66" y="104.57" width="5.2" height="5.2" stroke="#c04000" stroke-width="0.99" fill="none"/>
<path d="M133.23 113.66H137.83" stroke="#c04000" stroke-width="1.65" fill="none"/><rect x="132.93" y="111.06" width="5.2" height="5.2" stroke="#c04000" stroke-width="0.99" fill="none"/>
<path d="M138.87 120.02H143.47" stroke="#c04000" stroke-width="1.65" fill="none"/><rect x="138.57" y="117.42" width="5.2" height="5.2" stroke="#c04000" stroke-width="0.99" fill="none"/>
<path d="M144.87 127.24H149.47" stroke="#c04000" stroke-width="1.65" fill="none"/><rect x="144.57" y="124.64" width="5.2" height="5.2" stroke="#c04000" stroke-width="0.99" fill="none"/>
<path d="M151.24 134.77H155.84" stroke="#c04000" stroke-width="1.65" fill="none"/><rect x="150.94" y="132.17" width="5.2" height="5.2" stroke="#c04000" stroke-width="0.99" fill="none"/>
<path d="M157.97 142.31H162.57" stroke="#c04000" stroke-width="1.65" fill="none"/><rect x="157.67" y="139.71" width="5.2" height="5.2" stroke="#c04000" stroke-width="0.99" fill="none"/>
<path d="M165.07 150.36H169.67" stroke="#c04000" stroke-width="1.65" fill="none"/><rect x="164.77" y="147.76" width="5.2" height="5.2" stroke="#c04000" stroke-width="0.99" fill="none"/>
<path d="M172.53 159.18H177.13" stroke="#c04000" stroke-width="1.65" fill="none"/><rect x="172.23" y="156.58" width="5.2" height="5.2" stroke="#c04000" stroke-width="0.99" fill="none"/>
<path d="M180.35 169.30H184.95" stroke="#c04000" stroke-width="1.65" fill="none"/><rect x="180.05" y="166.70" width="5.2" height="5.2" stroke="#c04000" stroke-width="0.99" fill="none"/>
<path d="M188.54 178.88H193.14" stroke="#c04000" stroke-width="1.65" fill="none"/><rect x="188.24" y="176.28" width="5.2" height="5.2" stroke="#c04000" stroke-width="0.99" fill="none"/>
<path d="M197.09 188.61H201.69" stroke="#c04000" stroke-width="1.65" fill="none"/><rect x="196.79" y="186.01" width="5.2" height="5.2" stroke="#c04000" stroke-width="0.99" fill="none"/>
<path d="M206.00 198.49H210.60" stroke="#c04000" stroke-width="1.65" fill="none"/><rect x="205.70" y="195.89" width="5.2" height="5.2" stroke="#c04000" stroke-width="0.99" fill="none"/>
<path d="M215.28 208.93H219.88" stroke="#c04000" stroke-width="1.65" fill="none"/><rect x="214.98" y="206.33" width="5.2" height="5.2" stroke="#c04000" stroke-width="0.99" fill="none"/>
<path d="M224.92 219.21H229.52" stroke="#c04000" stroke-width="1.65" fill="none"/><rect x="224.62" y="216.61" width="5.2" height="5.2" stroke="#c04000" stroke-width="0.99" fill="none"/>
<path d="M234.93 230.20H239.53" stroke="#c04000" stroke-width="1.65" fill="none"/><rect x="234.63" y="227.60" width="5.2" height="5.2" stroke="#c04000" stroke-width="0.99" fill="none"/>
<path d="M245.29 241.26H249.89" stroke="#c04000" stroke-width="1.65" fill="none"/><rect x="244.99" y="238.66" width="5.2" height="5.2" stroke="#c04000" stroke-width="0.99" fill="none"/>
<path d="M256.03 252.72H260.63" stroke="#c04000" stroke-width="1.65" fill="none"/><rect x="255.73" y="250.12" width="5.2" height="5.2" stroke="#c04000" stroke-width="0.99" fill="none"/>
<path d="M267.13 264.49H271.73" stroke="#c04000" stroke-width="1.65" fill="none"/><rect x="266.83" y="261.89" width="5.2" height="5.2" stroke="#c04000" stroke-width="0.99" fill="none"/>
<path d="M278.59 276.66H283.19" stroke="#c04000" stroke-width="1.65" fill="none"/><rect x="278.29" y="274.06" width="5.2" height="5.2" stroke="#c04000" stroke-width="0.99" fill="none"/>
<path d="M290.41 287.88H295.01" stroke="#c04000" stroke-width="1.65" fill="none"/><rect x="290.11" y="285.28" width="5.2" height="5.2" stroke="#c04000" stroke-width="0.99" fill="none"/>
<path d="M302.60 298.86H307.20" stroke="#c04000" stroke-width="1.65" fill="none"/><rect x="302.30" y="296.26" width="5.2" height="5.2" stroke="#c04000" stroke-width="0.99" fill="none"/>
<path d="M315.15 308.59H319.75" stroke="#c04000" stroke-width="1.65" fill="none"/><rect x="314.85" y="305.99" width="5.2" height="5.2" stroke="#c04000" stroke-width="0.99" fill="none"/>
<path d="M328.07 317.62H332.67" stroke="#c04000" stroke-width="1.65" fill="none"/><rect x="327.77" y="315.02" width="5.2" height="5.2" stroke="#c04000" stroke-width="0.99" fill="none"/>
<path d="M341.35 324.45H345.95" stroke="#c04000" stroke-width="1.65" fill="none"/><rect x="341.05" y="321.85" width="5.2" height="5.2" stroke="#c04000" stroke-width="0.99" fill="none"/>
<path d="M354.99 329.86H359.59" stroke="#c04000" stroke-width="1.65" fill="none"/><rect x="354.69" y="327.26" width="5.2" height="5.2" stroke="#c04000" stroke-width="0.99" fill="none"/>
<path d="M369.00 334.02H373.60" stroke="#c04000" stroke-width="1.65" fill="none"/><rect x="368.70" y="331.42" width="5.2" height="5.2" stroke="#c04000" stroke-width="0.99" fill="none"/>
<path d="M383.37 336.53H387.97" stroke="#c04000" stroke-width="1.65" fill="none"/><rect x="383.07" y="333.93" width="5.2" height="5.2" stroke="#c04000" stroke-width="0.99" fill="none"/>
<path d="M398.11 338.02H402.71" stroke="#c04000" stroke-width="1.65" fill="none"/><rect x="397.81" y="335.42" width="5.2" height="5.2" stroke="#c04000" stroke-width="0.99" fill="none"/>
<path d="M413.21 338.65H417.81" stroke="#c04000" stroke-width="1.65" fill="none"/><rect x="412.91" y="336.05" width="5.2" height="5.2" stroke="#c04000" stroke-width="0.99" fill="none"/>
<path d="M428.67 338.73H433.27" stroke="#c04000" stroke-width="1.65" fill="none"/><rect x="428.37" y="336.13" width="5.2" height="5.2" stroke="#c04000" stroke-width="0.99" fill="none"/>
<path d="M444.50 338.49H449.10" stroke="#c04000" stroke-width="1.65" fill="none"/><rect x="444.20" y="335.89" width="5.2" height="5.2" stroke="#c04000" stroke-width="0.99" fill="none"/>
<path d="M460.69 338.32H465.29" stroke="#c04000" stroke-width="1.65" fill="none"/><rect x="460.39" y="335.72" width="5.2" height="5.2" stroke="#c04000" stroke-width="0.99" fill="none"/>
<path d="M477.24 338.18H481.84" stroke="#c04000" stroke-width="1.65" fill="none"/><rect x="476.94" y="335.58" width="5.2" height="5.2" stroke="#c04000" stroke-width="0.99" fill="none"/>
<path d="M494.16 338.05H498.76" stroke="#c04000" stroke-width="1.65" fill="none"/><rect x="493.86" y="335.45" width="5.2" height="5.2" stroke="#c04000" stroke-width="0.99" fill="none"/>
<path d="M511.44 337.94H516.04" stroke="#c04000" stroke-width="1.65" fill="none"/><rect x="511.14" y="335.34" width="5.2" height="5.2" stroke="#c04000" stroke-width="0.99" fill="none"/>
<path d="M529.09 337.86H533.69" stroke="#c04000" stroke-width="1.65" fill="none"/><rect x="528.79" y="335.26" width="5.2" height="5.2" stroke="#c04000" stroke-width="0.99" fill="none"/>
<path d="M547.10 337.79H551.70" stroke="#c04000" stroke-width="1.65" fill="none"/><rect x="546.80" y="335.19" width="5.2" height="5.2" stroke="#c04000" stroke-width="0.99" fill="none"/>
</g>
<g><path d="M94.60 80.62L94.78 79.45L95.33 78.27L96.24 77.72L97.51 77.49L99.15 77.72L101.15 78.82L103.51 81.02L106.24 83.76L109.34 86.82L112.79 89.96L116.61 93.65L120.80 97.97L125.34 102.28L130.26 107.74L135.53 114.13L141.17 121.43L147.17 129.20L153.54 136.81L160.27 145.24L167.37 154.34L174.83 163.81L182.65 173.46L190.84 182.64L199.39 192.69L208.30 203.28L217.58 215.13L227.22 227.14L237.23 239.93L247.59 252.33L258.33 264.73L269.43 277.60L280.89 289.53L292.71 300.28L304.90 310.79L317.45 319.50L330.37 326.64L343.65 331.98L357.29 335.67L371.30 337.47L385.67 338.57L400.41 338.96L415.51 339.20" stroke="#000000" stroke-width="1.1" fill="none" clip-path="url(#c)" stroke-linejoin="round"/>
<path d="M92.30 80.62H96.90" stroke="#000000" stroke-width="1.65" fill="none"/><circle cx="94.60" cy="80.62" r="2.55" stroke="#000000" stroke-width="1.04" fill="none"/>
<path d="M92.48 79.45H97.08" stroke="#000000" stroke-width="1.65" fill="none"/><circle cx="94.78" cy="79.45" r="2.55" stroke="#000000" stroke-width="1.04" fill="none"/>
<path d="M93.03 78.27H97.63" stroke="#000000" stroke-width="1.65" fill="none"/><circle cx="95.33" cy="78.27" r="2.55" stroke="#000000" stroke-width="1.04" fill="none"/>
<path d="M93.94 77.72H98.54" stroke="#000000" stroke-width="1.65" fill="none"/><circle cx="96.24" cy="77.72" r="2.55" stroke="#000000" stroke-width="1.04" fill="none"/>
<path d="M95.21 77.49H99.81" stroke="#000000" stroke-width="1.65" fill="none"/><circle cx="97.51" cy="77.49" r="2.55" stroke="#000000" stroke-width="1.04" fill="none"/>
<path d="M96.85 77.72H101.45" stroke="#000000" stroke-width="1.65" fill="none"/><circle cx="99.15" cy="77.72" r="2.55" stroke="#000000" stroke-width="1.04" fill="none"/>
<path d="M98.85 78.82H103.45" stroke="#000000" stroke-width="1.65" fill="none"/><circle cx="101.15" cy="78.82" r="2.55" stroke="#000000" stroke-width="1.04" fill="none"/>
<path d="M101.21 81.02H105.81" stroke="#000000" stroke-width="1.65" fill="none"/><circle cx="103.51" cy="81.02" r="2.55" stroke="#000000" stroke-width="1.04" fill="none"/>
<path d="M103.94 83.76H108.54" stroke="#000000" stroke-width="1.65" fill="none"/><circle cx="106.24" cy="83.76" r="2.55" stroke="#000000" stroke-width="1.04" fill="none"/>
<path d="M107.04 86.82H111.64" stroke="#000000" stroke-width="1.65" fill="none"/><circle cx="109.34" cy="86.82" r="2.55" stroke="#000000" stroke-width="1.04" fill="none"/>
<path d="M110.49 89.96H115.09" stroke="#000000" stroke-width="1.65" fill="none"/><circle cx="112.79" cy="89.96" r="2.55" stroke="#000000" stroke-width="1.04" fill="none"/>
<path d="M114.31 93.65H118.91" stroke="#000000" stroke-width="1.65" fill="none"/><circle cx="116.61" cy="93.65" r="2.55" stroke="#000000" stroke-width="1.04" fill="none"/>
<path d="M118.50 97.97H123.10" stroke="#000000" stroke-width="1.65" fill="none"/><circle cx="120.80" cy="97.97" r="2.55" stroke="#000000" stroke-width="1.04" fill="none"/>
<path d="M123.04 102.28H127.64" stroke="#000000" stroke-width="1.65" fill="none"/><circle cx="125.34" cy="102.28" r="2.55" stroke="#000000" stroke-width="1.04" fill="none"/>
<path d="M127.96 107.74H132.56" stroke="#000000" stroke-width="1.65" fill="none"/><circle cx="130.26" cy="107.74" r="2.55" stroke="#000000" stroke-width="1.04" fill="none"/>
<path d="M133.23 114.13H137.83" stroke="#000000" stroke-width="1.65" fill="none"/><circle cx="135.53" cy="114.13" r="2.55" stroke="#000000" stroke-width="1.04" fill="none"/>
<path d="M138.87 121.43H143.47" stroke="#000000" stroke-width="1.65" fill="none"/><circle cx="141.17" cy="121.43" r="2.55" stroke="#000000" stroke-width="1.04" fill="none"/>
<path d="M144.87 129.20H149.47" stroke="#000000" stroke-width="1.65" fill="none"/><circle cx="147.17" cy="129.20" r="2.55" stroke="#000000" stroke-width="1.04" fill="none"/>
<path d="M151.24 136.81H155.84" stroke="#000000" stroke-width="1.65" fill="none"/><circle cx="153.54" cy="136.81" r="2.55" stroke="#000000" stroke-width="1.04" fill="none"/>
<path d="M157.97 145.24H162.57" stroke="#000000" stroke-width="1.65" fill="none"/><circle cx="160.27" cy="145.24" r="2.55" stroke="#000000" stroke-width="1.04" fill="none"/>
<path d="M165.07 154.34H169.67" stroke="#000000" stroke-width="1.65" fill="none"/><circle cx="167.37" cy="154.34" r="2.55" stroke="#000000" stroke-width="1.04" fill="none"/>
<path d="M172.53 163.81H177.13" stroke="#000000" stroke-width="1.65" fill="none"/><circle cx="174.83" cy="163.81" r="2.55" stroke="#000000" stroke-width="1.04" fill="none"/>
<path d="M180.35 173.46H184.95" stroke="#000000" stroke-width="1.65" fill="none"/><circle cx="182.65" cy="173.46" r="2.55" stroke="#000000" stroke-width="1.04" fill="none"/>
<path d="M188.54 182.64H193.14" stroke="#000000" stroke-width="1.65" fill="none"/><circle cx="190.84" cy="182.64" r="2.55" stroke="#000000" stroke-width="1.04" fill="none"/>
<path d="M197.09 192.69H201.69" stroke="#000000" stroke-width="1.65" fill="none"/><circle cx="199.39" cy="192.69" r="2.55" stroke="#000000" stroke-width="1.04" fill="none"/>
<path d="M206.00 203.28H210.60" stroke="#000000" stroke-width="1.65" fill="none"/><circle cx="208.30" cy="203.28" r="2.55" stroke="#000000" stroke-width="1.04" fill="none"/>
<path d="M215.28 215.13H219.88" stroke="#000000" stroke-width="1.65" fill="none"/><circle cx="217.58" cy="215.13" r="2.55" stroke="#000000" stroke-width="1.04" fill="none"/>
<path d="M224.92 227.14H229.52" stroke="#000000" stroke-width="1.65" fill="none"/><circle cx="227.22" cy="227.14" r="2.55" stroke="#000000" stroke-width="1.04" fill="none"/>
<path d="M234.93 239.93H239.53" stroke="#000000" stroke-width="1.65" fill="none"/><circle cx="237.23" cy="239.93" r="2.55" stroke="#000000" stroke-width="1.04" fill="none"/>
<path d="M245.29 252.33H249.89" stroke="#000000" stroke-width="1.65" fill="none"/><circle cx="247.59" cy="252.33" r="2.55" stroke="#000000" stroke-width="1.04" fill="none"/>
<path d="M256.03 264.73H260.63" stroke="#000000" stroke-width="1.65" fill="none"/><circle cx="258.33" cy="264.73" r="2.55" stroke="#000000" stroke-width="1.04" fill="none"/>
<path d="M267.13 277.60H271.73" stroke="#000000" stroke-width="1.65" fill="none"/><circle cx="269.43" cy="277.60" r="2.55" stroke="#000000" stroke-width="1.04" fill="none"/>
<path d="M278.59 289.53H283.19" stroke="#000000" stroke-width="1.65" fill="none"/><circle cx="280.89" cy="289.53" r="2.55" stroke="#000000" stroke-width="1.04" fill="none"/>
<path d="M290.41 300.28H295.01" stroke="#000000" stroke-width="1.65" fill="none"/><circle cx="292.71" cy="300.28" r="2.55" stroke="#000000" stroke-width="1.04" fill="none"/>
<path d="M302.60 310.79H307.20" stroke="#000000" stroke-width="1.65" fill="none"/><circle cx="304.90" cy="310.79" r="2.55" stroke="#000000" stroke-width="1.04" fill="none"/>
<path d="M315.15 319.50H319.75" stroke="#000000" stroke-width="1.65" fill="none"/><circle cx="317.45" cy="319.50" r="2.55" stroke="#000000" stroke-width="1.04" fill="none"/>
<path d="M328.07 326.64H332.67" stroke="#000000" stroke-width="1.65" fill="none"/><circle cx="330.37" cy="326.64" r="2.55" stroke="#000000" stroke-width="1.04" fill="none"/>
<path d="M341.35 331.98H345.95" stroke="#000000" stroke-width="1.65" fill="none"/><circle cx="343.65" cy="331.98" r="2.55" stroke="#000000" stroke-width="1.04" fill="none"/>
<path d="M354.99 335.67H359.59" stroke="#000000" stroke-width="1.65" fill="none"/><circle cx="357.29" cy="335.67" r="2.55" stroke="#000000" stroke-width="1.04" fill="none"/>
<path d="M369.00 337.47H373.60" stroke="#000000" stroke-width="1.65" fill="none"/><circle cx="371.30" cy="337.47" r="2.55" stroke="#000000" stroke-width="1.04" fill="none"/>
<path d="M383.37 338.57H387.97" stroke="#000000" stroke-width="1.65" fill="none"/><circle cx="385.67" cy="338.57" r="2.55" stroke="#000000" stroke-width="1.04" fill="none"/>
<path d="M398.11 338.96H402.71" stroke="#000000" stroke-width="1.65" fill="none"/><circle cx="400.41" cy="338.96" r="2.55" stroke="#000000" stroke-width="1.04" fill="none"/>
<path d="M413.21 339.20H417.81" stroke="#000000" stroke-width="1.65" fill="none"/><circle cx="415.51" cy="339.20" r="2.55" stroke="#000000" stroke-width="1.04" fill="none"/>
</g>
<rect x="94.6" y="25.3" width="454.79999999999995" height="313.9" fill="none" stroke="#000" stroke-width="1.15"/>
<path d="M468.5 40.6H524.5M468.5 37.85V43.35M469.1 37.85V43.35M524.5 37.85V43.35" stroke="#ff0000" stroke-width="0.75" fill="none"/>
<path d="M496.50 37.85V43.35M493.75 40.60H499.25" stroke="#ff0000" stroke-width="0.95" fill="none"/>
<path d="M468.5 61.9H524.5M468.5 59.15V64.65M469.1 59.15V64.65M524.5 59.15V64.65" stroke="#006400" stroke-width="0.75" fill="none"/>
<path d="M494.20 59.60L498.80 64.20M494.20 64.20L498.80 59.60" stroke="#006400" stroke-width="1.1" fill="none"/>
<path d="M468.5 82.5H524.5M468.5 79.75V85.25M469.1 79.75V85.25M524.5 79.75V85.25" stroke="#0000ff" stroke-width="0.75" fill="none"/>
<path d="M496.50 79.75V85.25M493.75 82.50H499.25" stroke="#0000ff" stroke-width="1.1" fill="none"/><path d="M494.20 80.20L498.80 84.80M494.20 84.80L498.80 80.20" stroke="#0000ff" stroke-width="1.1" fill="none"/>
<path d="M468.5 103.9H524.5M468.5 101.15V106.65M469.1 101.15V106.65M524.5 101.15V106.65" stroke="#c04000" stroke-width="0.75" fill="none"/>
<rect x="493.90" y="101.30" width="5.2" height="5.2" stroke="#c04000" stroke-width="0.85" fill="none"/>
<path d="M468.5 124.6H524.5M468.5 121.85V127.35M469.1 121.85V127.35M524.5 121.85V127.35" stroke="#000000" stroke-width="0.75" fill="none"/>
<circle cx="496.50" cy="124.60" r="2.55" stroke="#000000" stroke-width="0.90" fill="none"/>
<text font-family="Liberation Serif, serif" font-size="24" font-style="italic" x="392.0" y="48.4">L</text>
<text font-family="Liberation Serif, serif" font-size="24" x="411.1" y="48.4">=</text>
<text font-family="Liberation Serif, serif" font-size="24" x="431.4" y="48.4">8</text>
<text font-family="Liberation Serif, serif" font-size="24" font-style="italic" x="392.0" y="69.1">L</text>
<text font-family="Liberation Serif, serif" font-size="24" x="411.1" y="69.1">=</text>
<text font-family="Liberation Serif, serif" font-size="24" x="431.4" y="69.1">12</text>
<text font-family="Liberation Serif, serif" font-size="24" font-style="italic" x="392.0" y="90.2">L</text>
<text font-family="Liberation Serif, serif" font-size="24" x="411.1" y="90.2">=</text>
<text font-family="Liberation Serif, serif" font-size="24" x="431.4" y="90.2">16</text>
<text font-family="Liberation Serif, serif" font-size="24" font-style="italic" x="392.0" y="111.0">L</text>
<text font-family="Liberation Serif, serif" font-size="24" x="411.1" y="111.0">=</text>
<text font-family="Liberation Serif, serif" font-size="24" x="431.4" y="111.0">24</text>
<text font-family="Liberation Serif, serif" font-size="24" font-style="italic" x="392.0" y="132.2">L</text>
<text font-family="Liberation Serif, serif" font-size="24" x="411.1" y="132.2">=</text>
<text font-family="Liberation Serif, serif" font-size="24" x="431.4" y="132.2">32</text>
<text font-family="Liberation Serif, serif" font-size="24" x="86.0" y="346.8" text-anchor="end">0</text>
<text font-family="Liberation Serif, serif" font-size="24" x="86.0" y="268.3" text-anchor="end">0.1</text>
<text font-family="Liberation Serif, serif" font-size="24" x="86.0" y="189.8" text-anchor="end">0.2</text>
<text font-family="Liberation Serif, serif" font-size="24" x="86.0" y="111.4" text-anchor="end">0.3</text>
<text font-family="Liberation Serif, serif" font-size="24" x="86.0" y="32.9" text-anchor="end">0.4</text>
<text font-family="Liberation Serif, serif" font-size="24" x="97.6" y="359.2" text-anchor="middle">0</text>
<text font-family="Liberation Serif, serif" font-size="24" x="188.6" y="359.2" text-anchor="middle">0.2</text>
<text font-family="Liberation Serif, serif" font-size="24" x="279.5" y="359.2" text-anchor="middle">0.4</text>
<text font-family="Liberation Serif, serif" font-size="24" x="370.5" y="359.2" text-anchor="middle">0.6</text>
<text font-family="Liberation Serif, serif" font-size="24" x="461.4" y="359.2" text-anchor="middle">0.8</text>
<text font-family="Liberation Serif, serif" font-size="24" x="552.4" y="359.2" text-anchor="middle">1</text>
<text font-family="Liberation Serif, serif" font-size="24" font-style="italic" transform="translate(310,379.4) scale(1.06,1)">q</text>
<text font-family="Liberation Serif, serif" font-size="18.6" x="324.6" y="370.2">2</text>
<g transform="translate(40.3,312.3) rotate(-90)">
<text font-family="Liberation Serif, serif" font-size="24" transform="translate(2.5,0) scale(1,1)" text-anchor="middle">[</text>
<text font-family="Liberation Serif, serif" font-size="24" font-style="italic" transform="translate(11.8,0) scale(0.88,1)" text-anchor="middle">C</text>
<text font-family="Liberation Serif, serif" font-size="19.2" transform="translate(24.9,7.2) scale(1,1)" text-anchor="middle">4</text>
<text font-family="Liberation Serif, serif" font-size="24" transform="translate(32.6,0) scale(0.9,1)" text-anchor="middle">(</text>
<text font-family="Liberation Serif, serif" font-size="24" font-style="italic" transform="translate(43.5,0) scale(0.95,1)" text-anchor="middle">L</text>
<text font-family="Liberation Serif, serif" font-size="24" transform="translate(55.6,0) scale(1.6,1)" text-anchor="middle">/</text>
<text font-family="Liberation Serif, serif" font-size="24" transform="translate(66.9,0) scale(1,1)" text-anchor="middle">4</text>
<text font-family="Liberation Serif, serif" font-size="24" transform="translate(76.4,0) scale(1,1)" text-anchor="middle">|</text>
<text font-family="Liberation Serif, serif" font-size="24" font-style="italic" transform="translate(85.6,0) scale(1.12,1)" text-anchor="middle">q</text>
<text font-family="Liberation Serif, serif" font-size="24" transform="translate(95.8,0) scale(0.9,1)" text-anchor="middle">)</text>
<text font-family="Liberation Serif, serif" font-size="24" transform="translate(104.8,0) scale(0.78,1)" text-anchor="middle">–</text>
<text font-family="Liberation Serif, serif" font-size="24" font-style="italic" transform="translate(116.6,0) scale(0.88,1)" text-anchor="middle">C</text>
<text font-family="Liberation Serif, serif" font-size="19.2" transform="translate(130.1,7.2) scale(1,1)" text-anchor="middle">4</text>
<text font-family="Liberation Serif, serif" font-size="24" transform="translate(137.6,0) scale(0.9,1)" text-anchor="middle">(</text>
<text font-family="Liberation Serif, serif" font-size="24" font-style="italic" transform="translate(148.6,0) scale(0.95,1)" text-anchor="middle">L</text>
<text font-family="Liberation Serif, serif" font-size="24" transform="translate(160.4,0) scale(1.6,1)" text-anchor="middle">/</text>
<text font-family="Liberation Serif, serif" font-size="24" transform="translate(172.3,0) scale(1.1,1)" text-anchor="middle">2</text>
<text font-family="Liberation Serif, serif" font-size="24" transform="translate(180.5,0) scale(1,1)" text-anchor="middle">|</text>
<text font-family="Liberation Serif, serif" font-size="24" font-style="italic" transform="translate(190.4,0) scale(1.12,1)" text-anchor="middle">q</text>
<text font-family="Liberation Serif, serif" font-size="24" transform="translate(199.6,0) scale(0.9,1)" text-anchor="middle">)</text>
<text font-family="Liberation Serif, serif" font-size="24" transform="translate(205.9,0) scale(1,1)" text-anchor="middle">]</text>
<text font-family="Liberation Serif, serif" font-size="24" font-style="italic" transform="translate(220.9,0) scale(0.95,1)" text-anchor="middle">L</text>
<text font-family="Liberation Serif, serif" font-size="19.2" x="228.3" y="-12.0"><tspan font-style="italic">θ</tspan>(0)</text>
</g>
</svg>
</body></html>
